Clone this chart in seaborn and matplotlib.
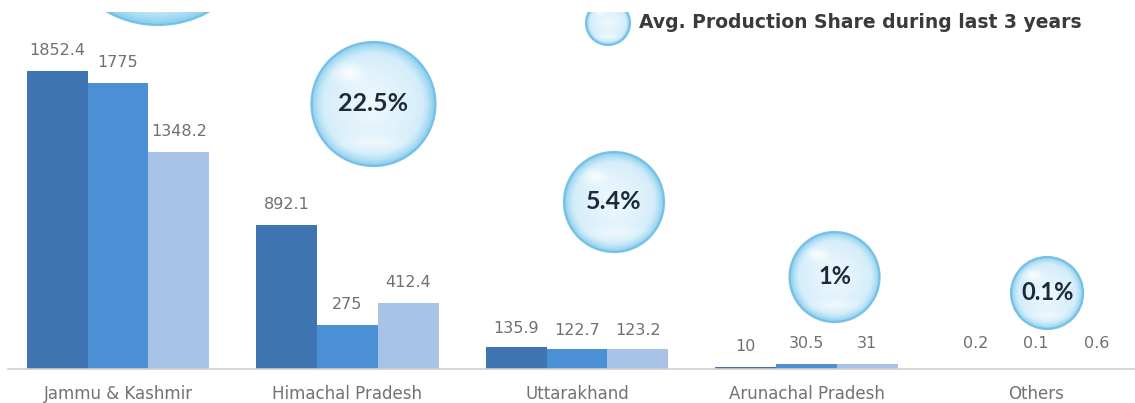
import numpy as np
import pandas as pd
import matplotlib
matplotlib.use("Agg")
import matplotlib.pyplot as plt
from matplotlib.patches import Circle
from matplotlib.colors import to_rgb
import seaborn as sns

# ---- data -------------------------------------------------------------
states = ["Jammu & Kashmir", "Himachal Pradesh", "Uttarakhand",
          "Arunachal Pradesh", "Others"]
years = ["Year 1", "Year 2", "Year 3"]
year1 = [1852.4, 892.1, 135.9, 10, 0.2]
year2 = [1775, 275, 122.7, 30.5, 0.1]
year3 = [1348.2, 412.4, 123.2, 31, 0.6]
share_labels = [None, "22.5%", "5.4%", "1%", "0.1%"]
legend_text = "Avg. Production Share during last 3 years"

# ---- styles -----------------------------------------------------------
bar_colors = ["#3d74b1", "#4b8fd5", "#a9c3e6"]
label_gap_px = [16, 16, 14, 16, 21]
# bubble: x offset from category centre (px), centre y (px from top), radius (px), font size
bubble_style = [(40, -79, 104, 18), (26, 104, 62, 18), (37, 202, 50, 18),
                (28, 277, 45, 17), (11, 293, 36, 17)]

W, H = 1135, 403
sns.set_theme(style="white")
plt.rcParams["font.family"] = ["DejaVu Sans"]

df = pd.DataFrame({
    "state": np.repeat(states, 3),
    "year": years * len(states),
    "value": np.ravel(np.column_stack([year1, year2, year3])),
})

fig = plt.figure(figsize=(W / 100, H / 100), dpi=100)
fig.patch.set_facecolor("white")

base_px = 369
ax = fig.add_axes([8 / W, (H - base_px) / H, (W - 8) / W, (base_px - 12) / H])
sns.barplot(data=df, x="state", y="value", hue="year", hue_order=years,
            order=states, palette=bar_colors, width=0.795, saturation=1,
            legend=False, ax=ax, linewidth=0)
ax.set_xlim(-0.479, 4.431)
ax.set_ylim(0, (base_px - 12) / 0.161)
ax.set_xlabel("")
ax.set_ylabel("")
ax.set_yticks([])
for s in ["left", "right", "top"]:
    ax.spines[s].set_visible(False)
ax.spines["bottom"].set_color("#cfcfcf")
ax.spines["bottom"].set_linewidth(1.2)
ax.tick_params(axis="x", length=0, pad=11.5, labelsize=12, labelcolor="#727272")
ax.set_facecolor("none")

# value labels above each bar
for container in ax.containers:
    for i, patch in enumerate(container.patches):
        v = patch.get_height()
        ax.annotate(f"{v:g}", (patch.get_x() + patch.get_width() / 2, v),
                    xytext=(0, label_gap_px[i] * 0.72), textcoords="offset points",
                    ha="center", va="baseline", fontsize=11.5, color="#707070")

# ---- bubble overlay in pixel coordinates -----------------------------
axo = fig.add_axes([0, 0, 1, (H - 12) / H], zorder=5)
axo.set_xlim(0, W)
axo.set_ylim(H, 12)
axo.axis("off")
axo.patch.set_alpha(0)

c_in = np.array(to_rgb("#f1f9fd"))
c_mid = np.array(to_rgb("#d6eefa"))
c_out = np.array(to_rgb("#86cdee"))


def bubble(cx, cy, r, text=None, fs=16):
    n = 240
    g = np.linspace(-1, 1, n)
    X, Y = np.meshgrid(g, g)
    d = np.clip(np.sqrt(X ** 2 + Y ** 2), 0, 1)
    t1 = np.clip(d / 0.78, 0, 1)[..., None]
    t2 = np.clip((d - 0.78) / 0.22, 0, 1)[..., None] ** 1.5
    rgb = c_in * (1 - t1) + c_mid * t1
    rgb = rgb * (1 - t2) + c_out * t2
    hl = np.exp(-(((X + 0.38) ** 2) / 0.05 + ((Y + 0.5) ** 2) / 0.02))[..., None]
    low = np.exp(-(((X) ** 2) / 0.25 + ((Y - 0.62) ** 2) / 0.015))[..., None]
    rgb = rgb * (1 - 0.8 * hl) + 0.8 * hl
    rgb = rgb * (1 - 0.5 * low) + 0.5 * low
    im = axo.imshow(rgb, extent=(cx - r, cx + r, cy + r, cy - r),
                    aspect="auto", interpolation="bilinear", zorder=1)
    clip = Circle((cx, cy), r, transform=axo.transData)
    im.set_clip_path(clip)
    axo.add_patch(Circle((cx, cy), r, fill=False, ec="#6fbde4",
                         lw=1.6, alpha=0.9, zorder=2))
    if text:
        axo.text(cx, cy, text, ha="center", va="center", fontsize=fs,
                 fontweight="bold", color="#1c2b3c", zorder=3,
                 family=["Lato", "DejaVu Sans"])


to_px = ax.transData
for i, lab in enumerate(share_labels):
    dx, cy, r, fs = bubble_style[i]
    cx = to_px.transform((i, 0))[0]
    bubble(cx + dx, cy, r, lab, fs)

# legend marker and text
bubble(608, 23, 22)
axo.text(639, 23, legend_text, ha="left", va="center", fontsize=13.5,
         fontweight="bold", color="#3a3a3a", family=["DejaVu Sans"])

fig.savefig("out.png", dpi=100)
